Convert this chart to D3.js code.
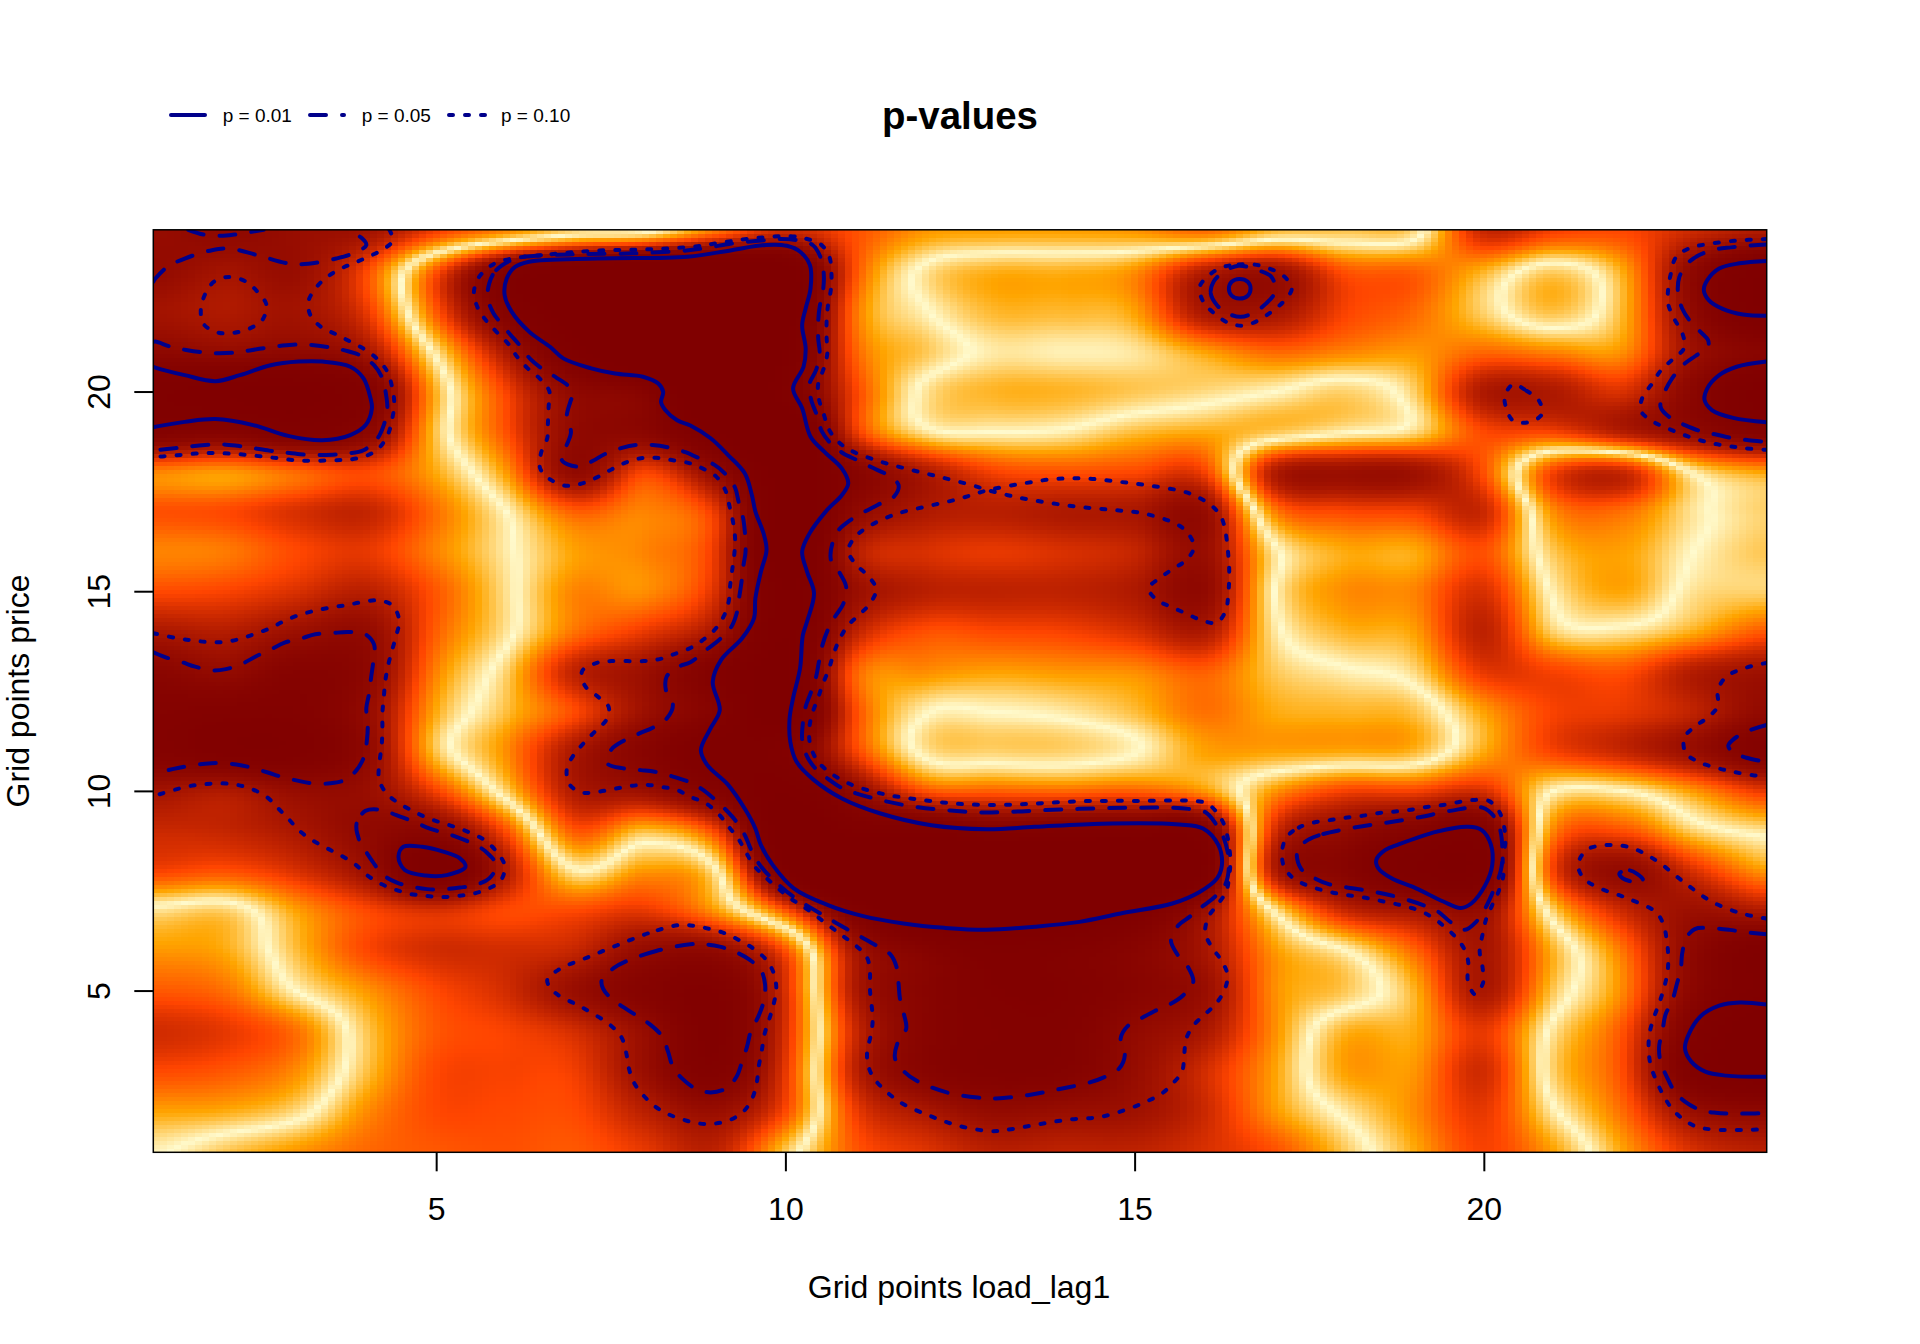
<!DOCTYPE html>
<html>
<head>
<meta charset="utf-8">
<style>
body{margin:0;background:#fff;}
text{font-family:"Liberation Sans",Arial,sans-serif;fill:#000;}
</style>
</head>
<body>
<svg id="graph" width="1920" height="1344"></svg>
<script src="https://d3js.org/d3.v7.min.js"></script>
<script>
var gridX = d3.range(1,25);
var gridY = d3.range(24,0,-1);
var xTicks = [5,10,15,20];
var yTicks = [5,10,15,20];
var legendLabels = ["p = 0.01","p = 0.05","p = 0.10"];
// signed test statistic read at each grid point, rows from y=24 down to y=1
var zRows = [
[-1.9,-2.05,-1.85,-1.7,-1.0,-.55,-.15,-.02,.7,1.3,.9,.5,.45,.45,.5,.7,.3,.25,.15,-1.3,-1.0,-.95,-1.3,-1.55],
[-1.95,-1.68,-1.85,-.95,.9,2.6,3.5,4,4,3.5,.9,-.1,-.38,-.38,-.55,-1.5,-1.8,-.9,-.8,-.35,.22,-.42,-2.1,-3.2],
[-1.7,-1.55,-1.7,-1.1,.85,2.5,3.5,4,4,3.5,.7,.03,-.33,-.33,-.45,-1.6,-1.65,-1.0,-.75,-.2,.28,-.36,-2.05,-3.2],
[-2.1,-1.95,-2.05,-1.65,.1,1.6,3,4,4,3.2,.8,.25,-.08,-.05,-.1,-.45,-.75,-.6,-.5,-.75,-.6,-.55,-1.8,-2.3],
[-3,-3.2,-3.3,-2.6,-.35,1.0,2.05,2.4,4,2.9,1.0,-.1,-.35,-.35,-.25,-.15,0,.2,-.2,-1.55,-1.55,-1.2,-2.2,-3.2],
[-2.55,-2.4,-2.7,-2.2,-.25,.9,2.0,2.2,3.2,3.8,1.1,.1,0,.05,.3,.4,.25,.03,-.15,-.95,-1.0,-1.5,-2.0,-2.5],
[-.6,-.5,-.75,-.95,-.4,.5,2.0,1.0,2.0,3.4,2.3,1.55,1.0,.9,.95,1.0,-1.5,-1.8,-1.75,-.9,1.0,1.3,-.05,-.45],
[-.9,-.95,-1.2,-1.35,-.7,0,.8,.6,1.1,3.4,2.05,1.55,1.45,1.55,1.6,1.9,-.6,-.95,-1.0,-1.3,.55,.7,.1,-.2],
[-.6,-.65,-.95,-1.1,-.6,-.07,.45,.6,1.1,3.5,1.5,1.2,1.1,1.2,1.35,1.85,.08,-.4,-.4,-.9,.25,.45,0,-.25],
[-.95,-1.0,-1.2,-1.45,-.85,-.12,.6,.55,1.2,3.2,1.85,1.45,1.4,1.4,1.55,2.0,0,-.55,-.6,-1.2,.05,.42,-.12,-.2],
[-1.6,-1.5,-1.8,-1.95,-.8,-.1,.7,1.1,1.65,3.2,1.4,.9,.95,1.0,1.2,1.55,.1,-.35,-.45,-1.4,-.2,-.1,-.4,-.85],
[-2.2,-1.96,-2.4,-2.1,-.6,.2,1.4,1.8,2.6,3.3,.8,.55,.45,.5,.55,.8,.25,.05,-.15,-1.1,-1.0,-.9,-1.5,-1.75],
[-2.5,-2.6,-2.6,-1.95,-.4,.3,.95,1.8,2.45,3.4,.95,.03,0,.08,.3,.7,.4,.35,.28,-.45,-1.0,-1.1,-1.4,-2.0],
[-2.5,-2.8,-2.8,-2.05,-.25,.55,1.6,2.3,3,2.7,1.0,-.1,-.2,-.2,-.02,.45,.45,.42,.35,-.4,-1.0,-1.35,-1.85,-2.5],
[-1.7,-1.55,-1.9,-1.85,-1.0,.2,1.55,1.8,2.5,3.2,2.0,.9,.8,.75,.8,.5,-.5,-1.0,-1.0,-1.2,0,0,-.5,-1.1],
[-1.3,-1.35,-1.6,-2,-2.1,-.9,.85,.3,1.0,3.5,3.0,3.0,2.6,2.75,2.8,2.6,-1.2,-1.95,-2.4,-2.6,.6,.9,.2,-.1],
[-1.0,-.9,-1.2,-1.8,-3,-1.5,-.05,-.5,-.05,3.0,4.5,4.5,4.5,4.5,4.5,3,-1.5,-2.3,-3,-2.9,1.0,1.96,1.2,.5],
[.12,.2,-.45,-.95,-1.2,-.95,-.95,-1.1,-.5,.85,2.7,3.8,4,3.8,3,1.8,-.05,-1.3,-1.65,-1.85,.2,1.3,1.8,1.55],
[.5,.4,-.3,-.95,-1.25,-1.25,-1.35,-1.95,-2.0,-.9,1.65,2.4,2.9,2.7,2.3,1.65,.5,.02,-.75,-1.65,-.35,.7,2.1,2.9],
[.85,.7,0,-.5,-.95,-1.25,-1.85,-2.4,-2.7,-1.2,1.55,2.3,2.7,2.7,2.3,1.85,.55,.25,-.35,-1.6,-.25,.6,2.2,3],
[1.25,1.1,.7,-.25,-.85,-1.0,-1.25,-1.9,-2.75,-1.2,1.3,2.3,2.6,2.6,2.0,1.6,.55,-.35,-.4,-1.1,.1,.9,2.6,3.6],
[.95,.85,.55,-.28,-.95,-1.0,-1.05,-1.85,-2.6,-1.1,1.4,2.3,2.6,2.5,1.9,1.25,.45,-.45,-.5,-1.25,.2,.95,2.8,3.4],
[.45,.4,.15,-.55,-.95,-.95,-.95,-1.45,-1.85,-.95,1.05,1.6,1.95,1.85,1.75,1.3,.5,-.08,-.55,-1.1,-.05,.75,1.85,2.1],
[.04,-.25,-.5,-.75,-.85,-.9,-.85,-1.1,-1.4,-.25,.85,1.15,1.45,1.4,1.4,1.2,.9,.25,-.4,-1.0,-.45,.45,1.2,1.45]
];
var p01Lines = [
[[.95,20.62],[.98,20.6],[1.4,20.41],[1.84,20.26],[2.19,20.41],[2.63,20.66],[3.03,20.75],[3.37,20.75],[3.77,20.62],[3.96,20.33],[4.06,19.83],[4.08,19.58],[3.99,19.16],[3.77,18.91],[3.37,18.78],[2.88,18.89],[2.38,19.16],[1.84,19.31],[1.4,19.24],[.98,19.12],[.95,19.11]],
[[8.6,23.375],[7.31,23.33],[6.33,23.25],[6.13,23.12],[6.01,22.83],[5.98,22.42],[6.08,22.0],[6.33,21.5],[6.63,21.12],[6.82,20.83],[7.22,20.58],[7.56,20.45],[7.96,20.37],[8.18,20.2],[8.25,19.99],[8.22,19.74],[8.28,19.54],[8.45,19.28],[8.64,19.15],[8.93,18.83],[9.18,18.41],[9.42,17.95],[9.52,17.41],[9.57,17.0],[9.69,16.43],[9.73,16.03],[9.65,15.49],[9.57,14.82],[9.55,14.32],[9.38,13.82],[9.08,13.28],[8.96,12.73],[9.06,12.02],[8.93,11.57],[8.79,11.02],[8.88,10.65],[9.18,10.15],[9.43,9.52],[9.57,9.06],[9.65,8.64],[9.82,8.14],[10.12,7.56],[10.61,7.14],[11.1,6.87],[11.69,6.68],[12.28,6.57],[12.88,6.52],[13.57,6.6],[14.21,6.72],[14.8,6.93],[15.54,7.18],[15.93,7.47],[16.18,7.81],[16.25,8.14],[16.2,8.64],[15.98,9.06],[15.64,9.16],[14.55,9.18],[13.57,9.1],[12.88,9.04],[12.09,9.14],[11.35,9.44],[10.81,9.81],[10.41,10.27],[10.16,10.73],[10.07,11.23],[10.06,11.81],[10.11,12.32],[10.21,13.07],[10.25,13.9],[10.31,14.24],[10.41,14.95],[10.31,15.49],[10.24,15.99],[10.34,16.43],[10.58,17.0],[10.81,17.41],[10.9,17.7],[10.81,18.07],[10.56,18.49],[10.36,18.87],[10.24,19.58],[10.11,20.08],[10.26,20.62],[10.29,21.08],[10.24,21.66],[10.29,22.08],[10.36,22.58],[10.35,23.17],[10.21,23.5],[10.02,23.65],[9.72,23.67],[9.23,23.54]],
[[4.53,8.6],[4.46,8.35],[4.55,8.02],[4.85,7.88],[5.15,7.89],[5.42,8.1],[5.34,8.31],[5.1,8.48],[4.8,8.6]],
[[16.66,22.58],[16.62,22.75],[16.5,22.82],[16.39,22.75],[16.35,22.58],[16.39,22.4],[16.5,22.33],[16.62,22.4]],
[[24.05,23.27],[23.66,23.21],[23.37,23.08],[23.2,22.79],[23.15,22.54],[23.22,22.29],[23.42,22.07],[23.71,21.93],[24.05,21.9]],
[[24.05,20.75],[23.62,20.62],[23.37,20.41],[23.2,20.08],[23.16,19.79],[23.27,19.53],[23.57,19.34],[24.05,19.23]],
[[18.78,8.66],[19.33,8.98],[19.77,9.1],[19.97,9.02],[20.1,8.66],[20.12,8.14],[20.02,7.64],[19.82,7.18],[19.67,7.07],[19.42,7.23],[19.03,7.56],[18.68,7.81],[18.49,8.06],[18.46,8.27],[18.59,8.52]],
[[24.05,4.65],[23.66,4.7],[23.37,4.62],[23.1,4.35],[22.93,3.89],[22.88,3.55],[22.97,3.22],[23.17,2.97],[23.47,2.87],[24.05,2.84]]
];
var p05Lines = [
[[1.45,24.05],[1.67,23.93],[1.92,23.9],[2.11,23.93],[2.36,24.0],[2.53,24.05]],
[[.95,22.75],[.98,22.83],[1.15,23.12],[1.4,23.33],[1.79,23.54],[2.04,23.58],[2.43,23.42],[2.88,23.21],[3.17,23.2],[3.57,23.33],[3.81,23.46],[4.0,23.67],[3.93,23.85],[3.72,24.05]],
[[.95,21.24],[.98,21.25],[1.2,21.12],[1.42,21.04],[1.67,20.98],[1.89,20.96],[2.14,20.98],[2.33,21.03],[2.58,21.1],[2.8,21.15],[3.05,21.18],[3.25,21.16],[3.5,21.1],[3.69,21.03],[3.92,20.9],[4.11,20.66],[4.23,20.33],[4.28,19.95],[4.3,19.54],[4.25,19.16],[4.16,18.83],[3.96,18.53],[3.73,18.45],[3.52,18.42],[3.27,18.41],[3.05,18.43],[2.8,18.48],[2.61,18.52],[2.36,18.59],[2.16,18.64],[1.91,18.68],[1.69,18.66],[1.45,18.62],[1.25,18.58],[.99,18.53],[.95,18.52]],
[[5.76,22.71],[5.86,23.04],[6.13,23.33],[6.43,23.4],[7.07,23.44],[7.81,23.46],[8.5,23.52],[8.81,23.58],[9.25,23.71],[9.7,23.79],[9.94,23.82],[10.16,23.79],[10.39,23.67],[10.51,23.33],[10.55,22.92],[10.54,22.54],[10.49,22.12],[10.47,21.75],[10.47,21.33],[10.49,20.95],[10.44,20.54],[10.34,20.16],[10.37,19.79],[10.45,19.41],[10.52,19.01],[10.65,18.7],[10.83,18.45],[11.03,18.28],[11.25,18.09],[11.45,17.92],[11.62,17.66],[11.55,17.36],[11.32,17.16],[10.93,16.78],[10.73,16.45],[10.65,15.8],[10.78,15.45],[10.87,15.11],[10.83,14.69],[10.71,14.36],[10.6,14.0],[10.53,13.65],[10.48,13.23],[10.44,12.86],[10.36,12.44],[10.29,12.11],[10.25,11.69],[10.24,11.3],[10.3,10.9],[10.42,10.58],[10.61,10.3],[10.8,10.08],[11.01,9.94],[11.46,9.73],[11.9,9.59],[12.36,9.51],[12.82,9.46],[13.27,9.48],[13.73,9.52],[14.2,9.55],[14.65,9.57],[15.11,9.58],[15.56,9.58],[15.77,9.55],[16.02,9.46],[16.16,9.18],[16.27,8.85],[16.35,8.23],[16.3,7.66],[16.15,7.35],[15.98,7.12],[15.79,6.85],[15.62,6.62],[15.52,6.26],[15.61,5.91],[15.77,5.57],[15.84,5.22],[15.7,4.89],[15.51,4.66],[15.29,4.49],[15.11,4.32],[14.9,4.11],[14.8,3.8],[14.86,3.39],[14.78,3.05],[14.55,2.82],[14.36,2.7],[13.91,2.53],[13.47,2.38],[13.02,2.3],[12.75,2.32],[12.31,2.45],[11.88,2.74],[11.7,2.97],[11.57,3.3],[11.6,3.66],[11.73,4.05],[11.7,4.39],[11.64,4.8],[11.62,5.18],[11.59,5.6],[11.5,5.91],[11.27,6.16],[10.88,6.54],[10.5,6.93],[10.1,7.37],[9.76,7.89],[9.62,8.18],[9.5,8.56],[9.42,8.89],[9.28,9.27],[9.14,9.54],[8.96,9.83],[8.8,10.05],[8.64,10.21],[8.37,10.37],[8.13,10.48],[7.93,10.52],[7.69,10.56],[7.45,10.69],[7.51,11.04],[7.69,11.26],[7.91,11.44],[8.1,11.58],[8.3,11.81],[8.39,12.15],[8.29,12.52],[8.3,12.86],[8.47,13.11],[8.64,13.22],[8.88,13.55],[9.05,13.78],[9.22,14.09],[9.3,14.43],[9.34,14.86],[9.37,15.21],[9.4,15.65],[9.43,16.0],[9.4,16.78],[9.33,17.24],[9.28,17.59],[9.15,17.92],[8.98,18.17],[8.74,18.35],[8.57,18.48],[8.33,18.6],[8.1,18.66],[7.86,18.66],[7.66,18.59],[7.41,18.43],[7.24,18.26],[7.02,18.12],[6.8,18.28],[6.86,18.62],[6.93,18.98],[6.87,19.37],[6.92,19.74],[6.95,19.91],[6.9,20.12],[6.72,20.35],[6.51,20.58],[6.35,20.81],[6.2,21.15],[6.06,21.43],[5.91,21.75],[5.82,21.96],[5.74,22.33]],
[[.95,13.47],[1.1,13.36],[1.35,13.23],[1.55,13.11],[1.78,13.02],[1.99,13.05],[2.23,13.19],[2.41,13.36],[2.63,13.54],[2.83,13.71],[3.07,13.82],[3.27,13.92],[3.51,13.95],[3.73,13.98],[3.97,13.94],[4.11,13.67],[4.1,13.25],[4.07,12.86],[4.04,12.44],[4.0,12.07],[4.02,11.65],[4.01,11.3],[3.97,10.87],[3.86,10.52],[3.69,10.27],[3.48,10.19],[3.23,10.19],[3.03,10.25],[2.79,10.35],[2.59,10.46],[2.34,10.59],[2.14,10.66],[1.89,10.7],[1.69,10.68],[1.44,10.62],[1.24,10.55],[.99,10.44],[.95,10.41]],
[[3.99,9.5],[3.86,9.18],[3.89,8.81],[3.96,8.58],[4.09,8.23],[4.23,7.91],[4.43,7.71],[4.65,7.6],[4.87,7.54],[5.1,7.54],[5.34,7.58],[5.55,7.64],[5.76,7.81],[5.86,8.14],[5.71,8.48],[5.52,8.68],[5.29,8.85],[5.1,8.95],[4.87,9.08],[4.68,9.23],[4.43,9.39],[4.23,9.52]],
[[8.64,6.16],[8.15,5.99],[7.73,5.74],[7.54,5.56],[7.37,5.26],[7.39,5.05],[7.51,4.8],[7.88,4.36],[8.07,4.14],[8.24,3.84],[8.32,3.47],[8.39,3.09],[8.52,2.8],[8.71,2.55],[8.93,2.45],[9.15,2.55],[9.3,2.84],[9.38,3.22],[9.45,3.59],[9.51,4.01],[9.61,4.34],[9.69,4.74],[9.71,5.14],[9.65,5.51],[9.48,5.78],[9.28,5.97],[9.06,6.1],[8.83,6.16]],
[[16.13,22.75],[16.09,22.46],[16.18,22.16],[16.33,21.96],[16.52,21.87],[16.71,21.98],[16.88,22.2],[17.01,22.5],[16.96,22.87],[16.76,23.04],[16.49,23.15],[16.28,23.0]],
[[24.05,23.68],[23.76,23.65],[23.54,23.61],[23.32,23.56],[23.1,23.43],[22.93,23.23],[22.8,22.87],[22.78,22.46],[22.84,22.08],[22.96,21.75],[23.11,21.48],[23.21,21.29],[23.21,21.12],[23.03,20.89],[22.85,20.66],[22.7,20.34],[22.59,19.99],[22.53,19.62],[22.68,19.33],[22.88,19.16],[23.1,19.01],[23.31,18.93],[23.54,18.84],[23.79,18.78],[24.05,18.74]],
[[24.05,11.65],[23.75,11.48],[23.56,11.27],[23.5,11.13],[23.57,10.96],[23.76,10.83],[24.05,10.72]],
[[24.05,6.41],[23.74,6.46],[23.52,6.52],[23.27,6.56],[23.02,6.54],[22.9,6.32],[22.84,5.93],[22.82,5.54],[22.76,5.14],[22.7,4.76],[22.6,4.39],[22.56,4.01],[22.51,3.59],[22.53,3.22],[22.62,2.84],[22.73,2.48],[22.88,2.22],[23.1,2.01],[23.32,1.94],[23.54,1.92],[23.76,1.92],[24.05,1.93]],
[[21.94,7.93],[22.09,8.01],[22.28,7.77],[22.23,7.68],[22.11,7.73],[21.99,7.81]],
[[17.5,8.79],[17.7,8.92],[18.17,9.09],[18.63,9.21],[19.08,9.34],[19.52,9.5],[19.98,9.58],[20.15,9.35],[20.24,8.98],[20.26,8.18],[20.21,7.81],[20.11,7.39],[20.02,7.06],[19.89,6.72],[19.73,6.52],[19.52,6.72],[19.35,6.97],[19.13,7.14],[18.68,7.38],[18.24,7.53],[17.79,7.66],[17.58,7.81],[17.38,8.06],[17.33,8.52]]
];
var p10Lines = [
[[4.33,24.05],[4.38,23.79],[4.26,23.58],[4.06,23.4],[3.84,23.23],[3.64,23.08],[3.44,22.87],[3.28,22.6],[3.17,22.25],[3.2,21.91],[3.35,21.62],[3.57,21.43],[3.77,21.25],[3.99,21.04],[4.16,20.81],[4.3,20.5],[4.37,20.1],[4.4,19.7],[4.37,19.31],[4.31,18.93],[4.18,18.58],[4.0,18.39],[3.77,18.3],[3.54,18.28],[3.07,18.27],[2.63,18.35],[2.18,18.43],[1.72,18.46],[1.26,18.4],[1.03,18.37],[.95,18.35]],
[[2.04,22.87],[1.82,22.75],[1.69,22.43],[1.63,22.04],[1.67,21.69],[1.87,21.48],[2.1,21.47],[2.33,21.58],[2.51,21.79],[2.57,22.17],[2.44,22.5],[2.28,22.75]],
[[5.93,23.27],[6.65,23.44],[7.33,23.53],[8.02,23.56],[8.69,23.63],[9.15,23.75],[9.61,23.85],[10.07,23.89],[10.29,23.83],[10.51,23.68],[10.63,23.37],[10.66,22.94],[10.65,22.54],[10.61,22.16],[10.59,21.76],[10.59,21.35],[10.6,20.95],[10.55,20.58],[10.47,20.2],[10.48,19.81],[10.55,19.43],[10.62,19.06],[10.76,18.74],[10.94,18.52],[11.37,18.24],[11.82,18.03],[12.26,17.84],[12.7,17.64],[12.9,17.53],[13.3,17.36],[13.75,17.22],[14.21,17.11],[14.66,17.04],[15.12,16.95],[15.55,16.72],[15.74,16.5],[15.85,16.11],[15.74,15.78],[15.56,15.57],[15.37,15.34],[15.2,15.07],[15.32,14.78],[15.52,14.61],[15.74,14.44],[15.95,14.28],[16.17,14.21],[16.3,14.49],[16.34,14.9],[16.35,15.7],[16.25,16.82],[16.11,17.13],[15.9,17.36],[15.69,17.5],[15.23,17.64],[14.78,17.74],[14.32,17.82],[13.86,17.81],[13.41,17.7],[12.9,17.53],[12.48,17.31],[12.04,17.13],[11.58,16.93],[11.18,16.61],[10.99,16.34],[10.9,16.01],[11.01,15.67],[11.18,15.39],[11.3,15.05],[11.21,14.69],[11.05,14.4],[10.89,14.13],[10.77,13.78],[10.69,13.43],[10.62,13.04],[10.53,12.65],[10.46,12.29],[10.38,11.91],[10.34,11.52],[10.36,11.12],[10.46,10.75],[10.62,10.48],[10.81,10.27],[11.03,10.1],[11.46,9.9],[11.92,9.78],[12.37,9.69],[12.83,9.65],[13.3,9.66],[13.75,9.7],[14.21,9.74],[14.66,9.75],[15.12,9.75],[15.58,9.76],[15.81,9.75],[16.03,9.69],[16.2,9.41],[16.3,9.06],[16.37,8.31],[16.35,7.81],[16.31,7.47],[16.19,7.16],[16.06,6.85],[16.01,6.46],[16.1,6.1],[16.24,5.76],[16.33,5.39],[16.29,5.03],[16.17,4.68],[16.01,4.41],[15.85,4.14],[15.74,3.8],[15.71,3.4],[15.68,2.98],[15.55,2.68],[15.38,2.41],[15.18,2.23],[14.96,2.07],[14.52,1.84],[14.06,1.77],[13.62,1.65],[13.16,1.51],[12.94,1.48],[12.49,1.61],[12.06,1.87],[11.63,2.22],[11.3,2.73],[11.19,3.09],[11.17,3.47],[11.22,3.86],[11.25,4.26],[11.21,5.05],[11.21,5.47],[11.17,5.82],[11.0,6.14],[10.82,6.37],[10.63,6.62],[10.26,7.1],[10.07,7.31],[9.72,7.83],[9.55,8.13],[9.43,8.48],[9.33,8.79],[9.19,9.1],[9.06,9.39],[8.86,9.69],[8.64,9.85],[8.45,10.02],[8.23,10.1],[8.0,10.15],[7.77,10.12],[7.55,10.05],[7.32,9.98],[7.09,9.96],[6.91,10.16],[6.87,10.54],[6.97,10.9],[7.12,11.21],[7.27,11.48],[7.44,11.79],[7.47,12.1],[7.3,12.38],[7.13,12.63],[7.09,13.0],[7.29,13.2],[7.51,13.25],[7.97,13.25],[8.2,13.3],[8.4,13.42],[8.64,13.58],[8.82,13.78],[8.99,14.04],[9.12,14.38],[9.19,14.76],[9.21,15.15],[9.24,15.55],[9.27,15.95],[9.28,16.32],[9.25,16.74],[9.2,17.13],[9.14,17.53],[9.01,17.87],[8.82,18.07],[8.64,18.2],[8.39,18.28],[8.15,18.34],[7.93,18.33],[7.71,18.22],[7.51,18.05],[7.3,17.85],[7.09,17.7],[6.87,17.64],[6.65,17.78],[6.49,18.07],[6.5,18.45],[6.59,18.83],[6.6,19.2],[6.61,19.62],[6.62,20.01],[6.48,20.33],[6.31,20.58],[6.16,20.87],[6.03,21.2],[5.86,21.5],[5.71,21.79],[5.6,22.08],[5.54,22.46],[5.6,22.83],[5.76,23.12]],
[[.95,13.95],[1.27,13.83],[1.5,13.77],[1.73,13.73],[1.96,13.73],[2.18,13.8],[2.4,13.93],[2.62,14.07],[2.82,14.25],[3.03,14.4],[3.26,14.51],[3.48,14.59],[3.71,14.65],[3.92,14.72],[4.16,14.77],[4.37,14.65],[4.47,14.28],[4.43,13.9],[4.37,13.53],[4.31,13.13],[4.27,12.73],[4.25,12.34],[4.23,11.94],[4.23,11.55],[4.22,11.15],[4.19,10.73],[4.18,10.31],[4.27,9.98],[4.43,9.73],[4.64,9.52],[4.84,9.35],[5.06,9.21],[5.28,9.09],[5.49,8.95],[5.69,8.77],[5.86,8.49],[5.98,8.13],[5.93,7.77],[5.76,7.56],[5.54,7.43],[5.32,7.37],[5.09,7.34],[4.85,7.37],[4.63,7.42],[4.41,7.53],[4.2,7.68],[4.01,7.89],[3.84,8.16],[3.64,8.38],[3.44,8.56],[3.25,8.74],[3.05,8.99],[2.89,9.29],[2.74,9.56],[2.58,9.84],[2.37,10.04],[2.15,10.15],[1.93,10.19],[1.69,10.17],[1.47,10.12],[1.24,10.02],[1.03,9.91],[.95,9.87]],
[[8.47,6.64],[8.03,6.43],[7.6,6.14],[7.18,5.84],[6.76,5.53],[6.59,5.26],[6.7,4.95],[7.1,4.57],[7.49,4.14],[7.65,3.84],[7.72,3.45],[7.76,3.05],[7.83,2.7],[7.97,2.37],[8.14,2.09],[8.33,1.9],[8.55,1.76],[8.77,1.67],[8.99,1.67],[9.22,1.77],[9.41,1.99],[9.53,2.32],[9.59,2.7],[9.62,3.12],[9.66,3.48],[9.7,3.9],[9.77,4.29],[9.83,4.65],[9.87,5.05],[9.83,5.45],[9.72,5.78],[9.55,6.04],[9.35,6.25],[9.14,6.43],[8.92,6.54],[8.7,6.62]],
[[16.27,23.12],[16.49,23.18],[16.71,23.18],[16.93,23.08],[17.13,22.9],[17.25,22.58],[17.13,22.25],[16.96,22.0],[16.76,21.77],[16.55,21.65],[16.34,21.72],[16.14,21.96],[15.99,22.23],[15.93,22.61],[16.07,22.92]],
[[20.42,20.18],[20.61,20.02],[20.79,19.77],[20.83,19.43],[20.64,19.23],[20.42,19.27],[20.33,19.54],[20.3,19.87]],
[[24.05,23.82],[23.62,23.78],[23.16,23.68],[22.93,23.58],[22.75,23.36],[22.68,22.97],[22.64,22.58],[22.64,22.19],[22.73,21.81],[22.84,21.47],[22.87,21.1],[22.7,20.8],[22.54,20.54],[22.41,20.2],[22.27,19.85],[22.25,19.51],[22.43,19.24],[22.63,19.08],[22.84,18.93],[23.06,18.8],[23.28,18.7],[23.52,18.63],[23.74,18.58],[24.05,18.54]],
[[24.05,13.2],[23.94,13.17],[23.68,13.04],[23.47,12.86],[23.35,12.52],[23.35,12.12],[23.2,11.83],[23.02,11.61],[22.87,11.33],[22.89,10.95],[23.07,10.73],[23.3,10.59],[23.52,10.5],[23.74,10.42],[24.05,10.35]],
[[24.05,6.8],[23.69,6.93],[23.27,7.22],[22.89,7.68],[22.53,8.18],[22.34,8.39],[22.14,8.56],[21.91,8.64],[21.67,8.63],[21.47,8.52],[21.35,8.16],[21.42,7.83],[21.61,7.6],[22.04,7.32],[22.46,6.97],[22.57,6.66],[22.62,6.25],[22.64,5.85],[22.63,5.46],[22.58,5.07],[22.51,4.68],[22.43,4.3],[22.37,3.91],[22.36,3.51],[22.39,3.12],[22.47,2.74],[22.57,2.38],[22.69,2.05],[22.86,1.77],[23.05,1.59],[23.28,1.52],[23.74,1.51],[24.05,1.53]],
[[17.18,8.85],[17.35,9.08],[17.57,9.21],[17.8,9.27],[18.02,9.33],[18.24,9.37],[18.48,9.44],[18.71,9.48],[18.93,9.52],[19.16,9.59],[19.39,9.64],[19.61,9.71],[19.84,9.77],[20.07,9.75],[20.22,9.48],[20.29,9.1],[20.31,8.73],[20.27,8.31],[20.28,7.89],[20.22,7.52],[20.12,7.14],[20.03,6.77],[19.98,6.39],[19.94,5.99],[19.98,5.6],[19.99,5.2],[19.87,4.91],[19.77,5.26],[19.78,5.66],[19.73,6.01],[19.59,6.35],[19.41,6.64],[19.23,6.87],[19.03,7.03],[18.81,7.14],[18.59,7.22],[18.35,7.31],[18.13,7.37],[17.9,7.43],[17.68,7.52],[17.46,7.64],[17.26,7.83],[17.14,8.1],[17.11,8.48]]
];

var svg = d3.select('#graph');
var xLeft = 153.3, xRight = 1766.7, yBottom = 1152.3, yTop = 229.8;
var x = d3.scaleLinear().domain([.95,24.05]).range([xLeft,xRight]);
var y = d3.scaleLinear().domain([.95,24.05]).range([yBottom,yTop]);
var colorScale = d3.scaleLinear()
	.domain([0,1/3,2/3,1])
	.range(['#800000','#ff4500','#ffa500','#fffacd'])
	.clamp(true);

function erf(v){
	var t = 1/(1+0.5*Math.abs(v));
	var r = 1-t*Math.exp(-v*v-1.26551223+t*(1.00002368+t*(0.37409196+t*(0.09678418+t*(-0.18628806+t*(0.27886807+t*(-1.13520398+t*(1.48851587+t*(-0.82215223+t*0.17087277)))))))));
	return v>=0?r:-r;
}
function pValue(z){
	return 1-erf(Math.abs(z)/Math.SQRT2);
}
function catmull(a,b,c,d,t){
	return 0.5*(2*b+(c-a)*t+(2*a-5*b+4*c-d)*t*t+(3*b-a-3*c+d)*t*t*t);
}
function zAt(px,py){
	var cx = Math.min(22,Math.floor(px-1)), cy = Math.min(22,Math.floor(24-py));
	var tx = px-1-cx, ty = 24-py-cy;
	var col = [];
	for(var j=-1;j<=2;j++){
		var row = zRows[Math.max(0,Math.min(23,cy+j))];
		col.push(catmull(row[Math.max(0,cx-1)],row[cx],row[cx+1],row[Math.min(23,cx+2)],tx));
	}
	return catmull(col[0],col[1],col[2],col[3],ty);
}

// same 0.1 raster as the source image
var cells = [];
d3.range(0,231).forEach(function(i){
	d3.range(0,231).forEach(function(j){
		var cx = 1+i/10, cy = 1+j/10;
		cells.push({x:cx,y:cy,p:pValue(zAt(cx,cy))});
	});
});
svg.append('g').attr('shape-rendering','crispEdges')
	.selectAll('rect')
	.data(cells)
	.enter()
	.append('rect')
	.attr('x',function(d){return x(d.x-.05);})
	.attr('y',function(d){return y(d.y+.05);})
	.attr('width',function(d){return x(d.x+.05)-x(d.x-.05)+.5;})
	.attr('height',function(d){return y(d.y-.05)-y(d.y+.05)+.5;})
	.attr('fill',function(d){return colorScale(d.p);});

svg.append('clipPath').attr('id','plotArea').append('rect')
	.attr('x',xLeft).attr('y',yTop).attr('width',xRight-xLeft).attr('height',yBottom-yTop);

function isOpen(line){
	var a = line[0], b = line[line.length-1];
	function edge(p){return p[0]<=.95||p[0]>=24.05||p[1]>=24.05||p[1]<=.95;}
	return edge(a)&&edge(b);
}
var lineOpen = d3.line().x(function(d){return x(d[0]);}).y(function(d){return y(d[1]);}).curve(d3.curveCatmullRom.alpha(.5));
var lineClosed = d3.line().x(function(d){return x(d[0]);}).y(function(d){return y(d[1]);}).curve(d3.curveCatmullRomClosed.alpha(.5));
var lineSets = [
	{lines:p01Lines,dash:null},
	{lines:p05Lines,dash:'16,16'},
	{lines:p10Lines,dash:'4,12'}
];
var contourGroup = svg.append('g').attr('clip-path','url(#plotArea)');
lineSets.forEach(function(set){
	contourGroup.append('g')
		.selectAll('path')
		.data(set.lines)
		.enter()
		.append('path')
		.attr('d',function(d){return isOpen(d)?lineOpen(d):lineClosed(d);})
		.attr('fill','none')
		.attr('stroke','#00008b')
		.attr('stroke-width',4)
		.attr('stroke-linecap','round')
		.attr('stroke-dasharray',set.dash);
});

svg.append('rect')
	.attr('x',xLeft).attr('y',yTop).attr('width',xRight-xLeft).attr('height',yBottom-yTop)
	.attr('fill','none').attr('stroke','#000').attr('stroke-width',1.5);

var xAxis = svg.append('g')
	.attr('transform','translate(0,'+yBottom+')')
	.call(d3.axisBottom(x).tickValues(xTicks).tickSize(19).tickSizeOuter(0).tickFormat(d3.format('d')));
xAxis.select('.domain').remove();
xAxis.selectAll('line').attr('stroke','#000').attr('stroke-width',2);
xAxis.selectAll('text')
	.attr('y',67.7).attr('dy',0)
	.style('font-size','32px').style('font-family','"Liberation Sans"').attr('fill','#000');

var yAxis = svg.append('g')
	.attr('transform','translate('+xLeft+',0)')
	.call(d3.axisLeft(y).tickValues(yTicks).tickSize(19).tickSizeOuter(0).tickFormat(d3.format('d')));
yAxis.select('.domain').remove();
yAxis.selectAll('line').attr('stroke','#000').attr('stroke-width',2);
yAxis.selectAll('text')
	.attr('x',0).attr('dy',0)
	.attr('text-anchor','middle')
	.attr('transform','translate(-43,0) rotate(-90)')
	.style('font-size','32px').style('font-family','"Liberation Sans"').attr('fill','#000');

svg.append('text').attr('x',960).attr('y',129)
	.attr('text-anchor','middle').style('font-size','38.4px').style('font-weight','bold')
	.text('p-values');
svg.append('text').attr('x',959).attr('y',1298)
	.attr('text-anchor','middle').style('font-size','32px')
	.text('Grid points load_lag1');
svg.append('text').attr('transform','translate(29,691) rotate(-90)')
	.attr('text-anchor','middle').style('font-size','32px')
	.text('Grid points price');

var legendX = [[171,205,222.7],[310,344,361.7],[449,485,501]];
var legendDash = [null,'16,16','4,12'];
legendLabels.forEach(function(label,i){
	svg.append('line')
		.attr('x1',legendX[i][0]).attr('x2',legendX[i][1]).attr('y1',115).attr('y2',115)
		.attr('stroke','#00008b').attr('stroke-width',4).attr('stroke-linecap','round')
		.attr('stroke-dasharray',legendDash[i]);
	svg.append('text').attr('x',legendX[i][2]).attr('y',121.7)
		.style('font-size','19px').text(label);
});
</script>
</body>
</html>
